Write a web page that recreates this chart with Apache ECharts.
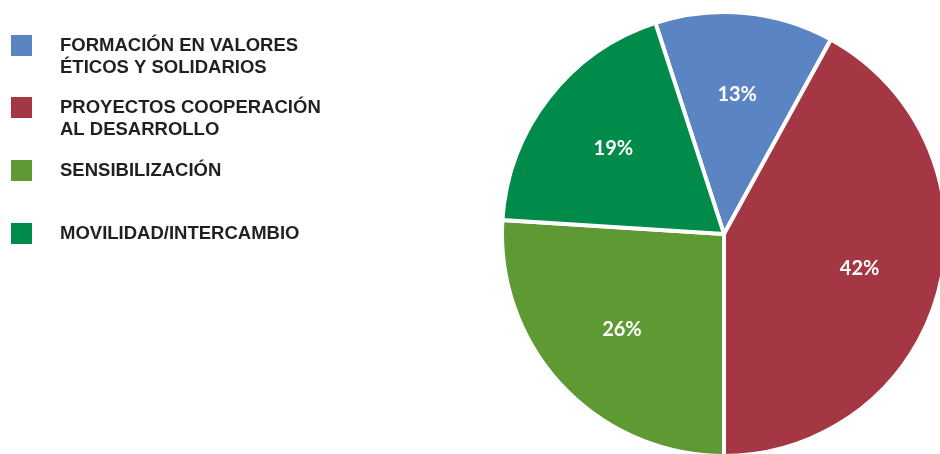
<!DOCTYPE html>
<html>
<head>
<meta charset="utf-8">
<script src="https://cdn.jsdelivr.net/npm/echarts@6/dist/echarts.min.js"></script>
<style>
  html, body { margin: 0; padding: 0; background: #fff; }
  #main { width: 940px; height: 454px; }
</style>
</head>
<body>
<div id="main"></div>
<script>
// categorias y valores (%)
var categorias = [
    'FORMACIÓN EN VALORES ÉTICOS Y SOLIDARIOS',
    'PROYECTOS COOPERACIÓN AL DESARROLLO',
    'SENSIBILIZACIÓN',
    'MOVILIDAD/INTERCAMBIO'
];
// texto de la leyenda, partido en lineas
var etiquetas = [
    ['FORMACIÓN EN VALORES', 'ÉTICOS Y SOLIDARIOS'],
    ['PROYECTOS COOPERACIÓN', 'AL DESARROLLO'],
    ['SENSIBILIZACIÓN', ''],
    ['MOVILIDAD/INTERCAMBIO', '']
];
var valores = [13, 42, 26, 19];
var colores = ['#5b84c3', '#a53744', '#5e9934', '#008b4a'];

var myChart = echarts.init(document.getElementById('main'));

var iconCentros = [45.5, 107.5, 170.5, 233.5];
var lineH = 22.5;

// una leyenda por categoria, para poder colocar cada una
var leyendas = categorias.map(function (nombre, i) {
    return {
        data: [nombre],
        orient: 'vertical',
        left: 9,
        top: iconCentros[i] - lineH * 1.5,
        padding: 0,
        icon: 'rect',
        itemWidth: 23,
        itemHeight: 23,
        itemGap: 0,
        selectedMode: false,
        formatter: function () {
            // linea vacia arriba para que la primera linea quede a la altura del cuadro
            return '\n' + etiquetas[i][0] + '\n' + etiquetas[i][1];
        },
        textStyle: {
            fontFamily: 'Liberation Sans',
            fontWeight: 'bold',
            fontSize: 18.5,
            lineHeight: lineH,
            color: '#231f20',
            padding: [0, 0, 0, 22]
        }
    };
});

var datos = categorias.map(function (nombre, i) {
    return { name: nombre, value: valores[i], itemStyle: { color: colores[i] } };
});

myChart.setOption({
    animation: false,
    legend: leyendas,
    series: [
        {
            type: 'pie',
            center: [724, 234],
            radius: [0, 222],
            startAngle: 108,
            clockwise: true,
            silent: true,
            itemStyle: { borderColor: '#fff', borderWidth: 4 },
            label: { show: false },
            labelLine: { show: false },
            data: datos
        },
        {
            // serie invisible solo para colocar las etiquetas mas hacia fuera
            type: 'pie',
            center: [724, 234],
            radius: [0, 274],
            startAngle: 108,
            clockwise: true,
            silent: true,
            itemStyle: { color: 'rgba(0,0,0,0)' },
            label: {
                show: true,
                position: 'inside',
                formatter: '{c}%',
                color: '#fff',
                fontFamily: 'Lato',
                fontWeight: 'bold',
                fontSize: 20
            },
            labelLine: { show: false },
            data: categorias.map(function (nombre, i) {
                return { name: nombre, value: valores[i] };
            })
        }
    ]
});
</script>
</body>
</html>
